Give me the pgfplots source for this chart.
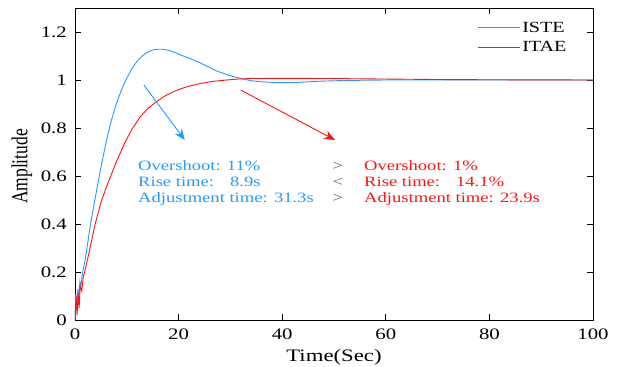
\documentclass[border=0pt]{standalone}
\usepackage{fontspec}
\setmainfont{Liberation Serif}[FakeStretch=1.3]
\newfontfamily\plainserif{Liberation Serif}
\usepackage{graphicx}
\usepackage{pgfplots}
\pgfplotsset{compat=1.18}
\usetikzlibrary{arrows.meta}
\definecolor{isteblue}{RGB}{35,155,255}
\definecolor{itaered}{RGB}{255,20,20}
\definecolor{symgray}{RGB}{90,90,90}
\begin{document}
\begin{tikzpicture}
\begin{axis}[
  at={(0pt,0pt)}, anchor=origin,
  scale only axis, width=518pt, height=312pt,
  xmin=0, xmax=100, ymin=0, ymax=1.3,
  xtick={0,20,40,60,80,100},
  ytick={0,0.2,0.4,0.6,0.8,1,1.2},
  tick align=inside, major tick length=6pt,
  axis line style={line width=0.8pt},
  every tick/.style={black, line width=0.8pt},
  /pgf/number format/assume math mode=true,
  tick label style={font=\fontsize{16}{19}\selectfont, inner sep=0pt},
  yticklabel style={xshift=-8pt},
  xticklabel style={yshift=-9pt},
  xlabel={Time(Sec)},
  ylabel={\scalebox{1}[1.3]{Amplitude}},
  xlabel style={at={(axis description cs:0.5,-0.1337)}, anchor=base, font=\fontsize{17.5}{20}\selectfont, inner sep=0pt},
  ylabel style={at={(axis description cs:-0.1023,0.492)}, anchor=center, font=\plainserif\fontsize{17.5}{20}\selectfont, inner sep=0pt},
  legend style={draw=none, fill=none, at={(rel axis cs:0.776,0.963)}, anchor=north west,
    font=\fontsize{15.5}{18}\selectfont, row sep=4pt, inner sep=0pt},
  legend cell align=left,
  legend image code/.code={\draw[#1, line width=1.1pt] (0pt,0pt) -- (42pt,0pt);},
  clip=true,
]
\addplot[isteblue, line width=0.9pt] coordinates {
(0,0) (0.15,0.11) (0.35,0.04) (0.55,0.13) (0.75,0.09) (0.95,0.16) (1.15,0.14) (1.4,0.19)
(2.0,0.255) (3.0,0.40) (4.0,0.52) (5.0,0.635) (6.0,0.74) (7.0,0.83) (8.0,0.903)
(9.0,0.96) (10.0,1.008) (11.0,1.048) (12.0,1.078) (13.0,1.101) (14.0,1.116) (15.0,1.125)
(16.0,1.128) (17.0,1.128) (18.0,1.124) (19.0,1.117) (20.9,1.10) (22.5,1.087) (24.1,1.072)
(26.0,1.052) (27.4,1.037) (29.0,1.025) (30.6,1.014) (32.5,1.004) (34.0,0.997) (35.7,0.993)
(38,0.99) (40.2,0.989) (43,0.99) (47.3,0.995) (52,0.998) (60,1.0) (100,1.0)
};
\addlegendentry{ISTE}
\addplot[itaered, line width=0.9pt] coordinates {
(0,0) (0.2,0.1) (0.4,0.02) (0.6,0.11) (0.8,0.05) (1.0,0.14) (1.3,0.12) (1.6,0.18)
(1.87,0.2) (2.5,0.26) (3.0,0.31) (3.9,0.40) (5.0,0.49) (6.0,0.55) (6.9,0.60) (8.0,0.66)
(9.65,0.74) (11.0,0.795) (12.5,0.844) (14.0,0.88) (15.8,0.911) (17.5,0.935) (19.6,0.957)
(21.6,0.972) (24.1,0.985) (26.5,0.994) (29.3,1.0) (31.5,1.004) (33.8,1.006) (40,1.007)
(50,1.006) (60,1.004) (70,1.002) (80,1.001) (100,1.0)
};
\addlegendentry{ITAE}
\addplot[isteblue, line width=0.9pt, -{Stealth[length=11pt,width=9pt]}, forget plot] coordinates {(13.3,0.979) (21.2,0.75)};
\addplot[itaered, line width=0.9pt, -{Stealth[length=11pt,width=9pt]}, forget plot] coordinates {(32.0,0.958) (50.2,0.75)};
\begin{scope}[every node/.style={font=\fontsize{14.3}{17}\selectfont, inner sep=0pt, anchor=base west}]
\node[text=isteblue] at (axis cs:12.16,0.622) {Overshoot: 11\%};
\node[text=isteblue] at (axis cs:12.16,0.556) {Rise time:\hspace{16pt}8.9s};
\node[text=isteblue] at (axis cs:12.16,0.490) {Adjustment time: 31.3s};
\node[text=symgray] at (axis cs:49.7,0.622) {>};
\node[text=symgray] at (axis cs:49.7,0.556) {<};
\node[text=symgray] at (axis cs:49.7,0.490) {>};
\node[text=itaered] at (axis cs:55.8,0.622) {Overshoot: 1\%};
\node[text=itaered] at (axis cs:55.8,0.556) {Rise time:\hspace{16pt}14.1\%};
\node[text=itaered] at (axis cs:55.8,0.490) {Adjustment time: 23.9s};
\end{scope}
\end{axis}
\path[use as bounding box] (-75pt,-47pt) rectangle (547pt,320pt);
\end{tikzpicture}
\end{document}
